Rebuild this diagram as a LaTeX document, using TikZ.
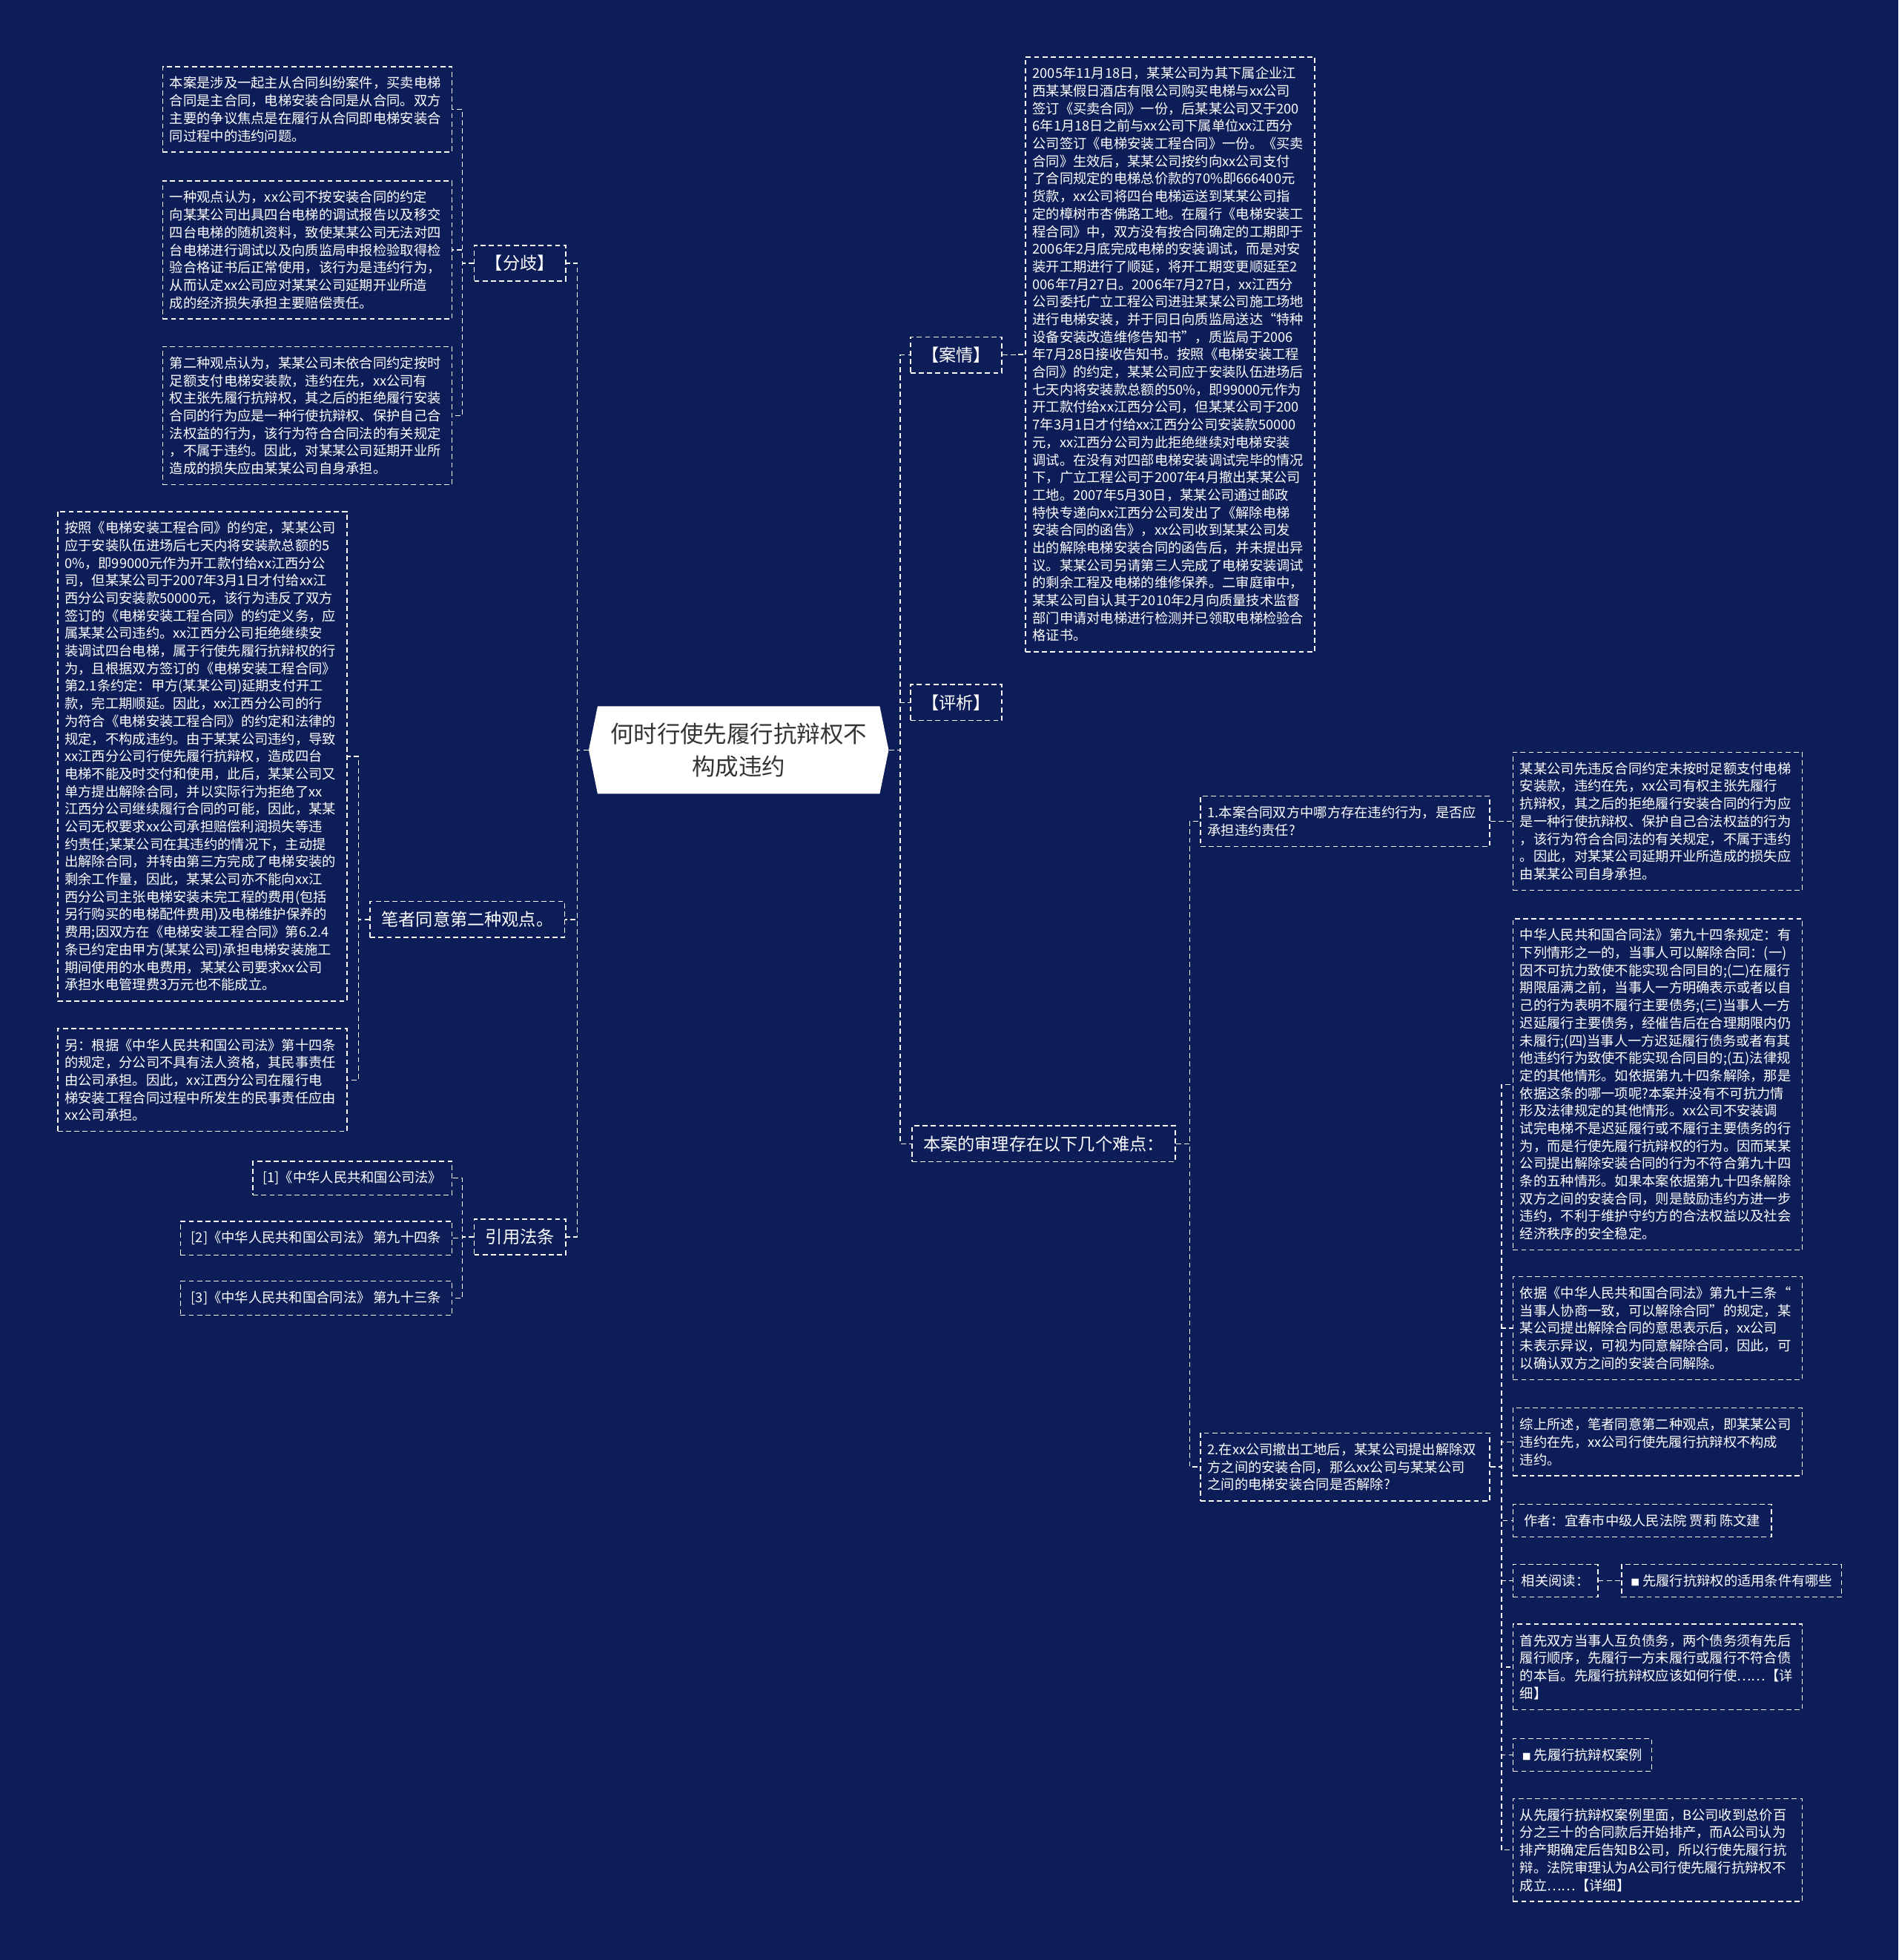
\documentclass[tikz,border=0pt]{standalone}
\usepackage{fontspec}
\setmainfont{Noto Sans CJK SC}
\usetikzlibrary{shapes.symbols}
\definecolor{bgnavy}{RGB}{12,29,88}
\definecolor{rootgray}{RGB}{51,51,51}
\newcommand{\leaffont}{\fontsize{10.8pt}{14pt}\selectfont}
\newcommand{\midfont}{\fontsize{13.7pt}{16pt}\selectfont}
\newcommand{\rootfont}{\fontsize{18.6pt}{26pt}\selectfont}
\tikzset{
  link/.style={white, line width=0.9pt, dash pattern=on 4pt off 2.6pt},
  leafbox/.style={rectangle, draw=white, line width=0.9pt, dash pattern=on 4pt off 2.6pt,
    text=white, font=\leaffont, inner xsep=0.2cm, inner ysep=0.28cm},
  parabox/.style={leafbox, text width=7.7cm, align=left},
  midbox/.style={rectangle, draw=white, line width=0.9pt, dash pattern=on 4pt off 2.6pt,
    text=white, font=\midfont, inner xsep=9pt, inner ysep=2pt, minimum height=1.0cm},
  rootbox/.style={signal, signal to=west and east, signal pointer angle=157, fill=white,
    text=rootgray, font=\rootfont, align=center, minimum width=8.4cm, minimum height=2.45cm}
}
\begin{document}
\begin{tikzpicture}[x=0.035cm, y=-0.035cm]
\fill[bgnavy] (0,0) rectangle (1519,1568);
\useasboundingbox (0,0) rectangle (1519,1568);

% Central topic
\node[rootbox] (root) at (591,600) {何时行使先履行抗辩权不\\构成违约};

% Left branches
\node[midbox] (fenqi) at (416,210.5) {【分歧】};
\node[midbox] (bizhe) at (374,735.5) {笔者同意第二种观点。};
\node[midbox] (yinyong) at (416,989.5) {引用法条};

\node[parabox, anchor=east] (a1) at (362,87.5) {本案是涉及一起主从合同纠纷案件，买卖电梯\\
合同是主合同，电梯安装合同是从合同。双方\\
主要的争议焦点是在履行从合同即电梯安装合\\
同过程中的违约问题。};
\node[parabox, anchor=east] (a2) at (362,200) {一种观点认为，xx公司不按安装合同的约定\\
向某某公司出具四台电梯的调试报告以及移交\\
四台电梯的随机资料，致使某某公司无法对四\\
台电梯进行调试以及向质监局申报检验取得检\\
验合格证书后正常使用，该行为是违约行为，\\
从而认定xx公司应对某某公司延期开业所造\\
成的经济损失承担主要赔偿责任。};
\node[parabox, anchor=east] (a3) at (362,332.5) {第二种观点认为，某某公司未依合同约定按时\\
足额支付电梯安装款，违约在先，xx公司有\\
权主张先履行抗辩权，其之后的拒绝履行安装\\
合同的行为应是一种行使抗辩权、保护自己合\\
法权益的行为，该行为符合合同法的有关规定\\
，不属于违约。因此，对某某公司延期开业所\\
造成的损失应由某某公司自身承担。};

\node[parabox, anchor=east] (b1) at (278,605) {按照《电梯安装工程合同》的约定，某某公司\\
应于安装队伍进场后七天内将安装款总额的5\\
0\%，即99000元作为开工款付给xx江西分公\\
司，但某某公司于2007年3月1日才付给xx江\\
西分公司安装款50000元，该行为违反了双方\\
签订的《电梯安装工程合同》的约定义务，应\\
属某某公司违约。xx江西分公司拒绝继续安\\
装调试四台电梯，属于行使先履行抗辩权的行\\
为，且根据双方签订的《电梯安装工程合同》\\
第2.1条约定：甲方(某某公司)延期支付开工\\
款，完工期顺延。因此，xx江西分公司的行\\
为符合《电梯安装工程合同》的约定和法律的\\
规定，不构成违约。由于某某公司违约，导致\\
xx江西分公司行使先履行抗辩权，造成四台\\
电梯不能及时交付和使用，此后，某某公司又\\
单方提出解除合同，并以实际行为拒绝了xx\\
江西分公司继续履行合同的可能，因此，某某\\
公司无权要求xx公司承担赔偿利润损失等违\\
约责任;某某公司在其违约的情况下，主动提\\
出解除合同，并转由第三方完成了电梯安装的\\
剩余工作量，因此，某某公司亦不能向xx江\\
西分公司主张电梯安装未完工程的费用(包括\\
另行购买的电梯配件费用)及电梯维护保养的\\
费用;因双方在《电梯安装工程合同》第6.2.4\\
条已约定由甲方(某某公司)承担电梯安装施工\\
期间使用的水电费用，某某公司要求xx公司\\
承担水电管理费3万元也不能成立。};
\node[parabox, anchor=east] (b2) at (278,864) {另：根据《中华人民共和国公司法》第十四条\\
的规定，分公司不具有法人资格，其民事责任\\
由公司承担。因此，xx江西分公司在履行电\\
梯安装工程合同过程中所发生的民事责任应由\\
xx公司承担。};

\node[leafbox, anchor=east, minimum width=5.57cm] (c1) at (362,942.5) {[1]《中华人民共和国公司法》};
\node[leafbox, anchor=east, minimum width=7.6cm] (c2) at (362,990.5) {[2]《中华人民共和国公司法》 第九十四条};
\node[leafbox, anchor=east, minimum width=7.6cm] (c3) at (362,1038.5) {[3]《中华人民共和国合同法》 第九十三条};

% Right branches
\node[midbox] (anqing) at (765,284) {【案情】};
\node[midbox] (pingxi) at (765,562) {【评析】};
\node[midbox] (nandian) at (835,915) {本案的审理存在以下几个难点：};

\node[parabox, anchor=west] (d) at (820,283.5) {2005年11月18日，某某公司为其下属企业江\\
西某某假日酒店有限公司购买电梯与xx公司\\
签订《买卖合同》一份，后某某公司又于200\\
6年1月18日之前与xx公司下属单位xx江西分\\
公司签订《电梯安装工程合同》一份。《买卖\\
合同》生效后，某某公司按约向xx公司支付\\
了合同规定的电梯总价款的70\%即666400元\\
货款，xx公司将四台电梯运送到某某公司指\\
定的樟树市杏佛路工地。在履行《电梯安装工\\
程合同》中，双方没有按合同确定的工期即于\\
2006年2月底完成电梯的安装调试，而是对安\\
装开工期进行了顺延，将开工期变更顺延至2\\
006年7月27日。2006年7月27日，xx江西分\\
公司委托广立工程公司进驻某某公司施工场地\\
进行电梯安装，并于同日向质监局送达“特种\\
设备安装改造维修告知书”，质监局于2006\\
年7月28日接收告知书。按照《电梯安装工程\\
合同》的约定，某某公司应于安装队伍进场后\\
七天内将安装款总额的50\%，即99000元作为\\
开工款付给xx江西分公司，但某某公司于200\\
7年3月1日才付给xx江西分公司安装款50000\\
元，xx江西分公司为此拒绝继续对电梯安装\\
调试。在没有对四部电梯安装调试完毕的情况\\
下，广立工程公司于2007年4月撤出某某公司\\
工地。2007年5月30日，某某公司通过邮政\\
特快专递向xx江西分公司发出了《解除电梯\\
安装合同的函告》，xx公司收到某某公司发\\
出的解除电梯安装合同的函告后，并未提出异\\
议。某某公司另请第三人完成了电梯安装调试\\
的剩余工程及电梯的维修保养。二审庭审中，\\
某某公司自认其于2010年2月向质量技术监督\\
部门申请对电梯进行检测并已领取电梯检验合\\
格证书。};

\node[parabox, anchor=west] (q1) at (960,657) {1.本案合同双方中哪方存在违约行为，是否应\\
承担违约责任?};
\node[parabox, anchor=west] (q2) at (960,1173.5) {2.在xx公司撤出工地后，某某公司提出解除双\\
方之间的安装合同，那么xx公司与某某公司\\
之间的电梯安装合同是否解除?};

\node[parabox, anchor=west] (e1) at (1210,657) {某某公司先违反合同约定未按时足额支付电梯\\
安装款，违约在先，xx公司有权主张先履行\\
抗辩权，其之后的拒绝履行安装合同的行为应\\
是一种行使抗辩权、保护自己合法权益的行为\\
，该行为符合合同法的有关规定，不属于违约\\
。因此，对某某公司延期开业所造成的损失应\\
由某某公司自身承担。};
\node[parabox, anchor=west] (e2) at (1210,867.5) {中华人民共和国合同法》第九十四条规定：有\\
下列情形之一的，当事人可以解除合同：(一)\\
因不可抗力致使不能实现合同目的;(二)在履行\\
期限届满之前，当事人一方明确表示或者以自\\
己的行为表明不履行主要债务;(三)当事人一方\\
迟延履行主要债务，经催告后在合理期限内仍\\
未履行;(四)当事人一方迟延履行债务或者有其\\
他违约行为致使不能实现合同目的;(五)法律规\\
定的其他情形。如依据第九十四条解除，那是\\
依据这条的哪一项呢?本案并没有不可抗力情\\
形及法律规定的其他情形。xx公司不安装调\\
试完电梯不是迟延履行或不履行主要债务的行\\
为，而是行使先履行抗辩权的行为。因而某某\\
公司提出解除安装合同的行为不符合第九十四\\
条的五种情形。如果本案依据第九十四条解除\\
双方之间的安装合同，则是鼓励违约方进一步\\
违约，不利于维护守约方的合法权益以及社会\\
经济秩序的安全稳定。};
\node[parabox, anchor=west] (e3) at (1210,1062.5) {依据《中华人民共和国合同法》第九十三条“\\
当事人协商一致，可以解除合同”的规定，某\\
某公司提出解除合同的意思表示后，xx公司\\
未表示异议，可视为同意解除合同，因此，可\\
以确认双方之间的安装合同解除。};
\node[parabox, anchor=west] (e4) at (1210,1153.5) {综上所述，笔者同意第二种观点，即某某公司\\
违约在先，xx公司行使先履行抗辩权不构成\\
违约。};
\node[leafbox, anchor=west, minimum width=7.245cm] (e5) at (1210,1216.5) {作者：宜春市中级人民法院 贾莉 陈文建};
\node[leafbox, anchor=west, minimum width=2.38cm] (e6) at (1210,1264.5) {相关阅读：};
\node[leafbox, anchor=west, minimum width=6.16cm] (e6a) at (1297,1264.5) {{\scriptsize■} 先履行抗辩权的适用条件有哪些};
\node[parabox, anchor=west] (e7) at (1210,1333.5) {首先双方当事人互负债务，两个债务须有先后\\
履行顺序，先履行一方未履行或履行不符合债\\
的本旨。先履行抗辩权应该如何行使……【详\\
细】};
\node[leafbox, anchor=west, minimum width=3.885cm] (e8) at (1210,1404) {{\scriptsize■} 先履行抗辩权案例};
\node[parabox, anchor=west] (e9) at (1210,1480) {从先履行抗辩权案例里面，B公司收到总价百\\
分之三十的合同款后开始排产，而A公司认为\\
排产期确定后告知B公司，所以行使先履行抗\\
辩。法院审理认为A公司行使先履行抗辩权不\\
成立……【详细】};

% Connectors, left side
\foreach \kid in {fenqi, bizhe, yinyong}
  \draw[link] (root.west) -- ++(-9,0) |- (\kid.east);
\foreach \kid in {a1, a2, a3}
  \draw[link] (fenqi.west) -- ++(-9,0) |- (\kid.east);
\foreach \kid in {b1, b2}
  \draw[link] (bizhe.west) -- ++(-9,0) |- (\kid.east);
\foreach \kid in {c1, c2, c3}
  \draw[link] (yinyong.west) -- ++(-9,0) |- (\kid.east);

% Connectors, right side
\foreach \kid in {anqing, pingxi, nandian}
  \draw[link] (root.east) -- ++(9,0) |- (\kid.west);
\draw[link] (anqing.east) -- ++(11,0) |- (d.west);
\foreach \kid in {q1, q2}
  \draw[link] (nandian.east) -- ++(11,0) |- (\kid.west);
\draw[link] (q1.east) -- ++(9,0) |- (e1.west);
\foreach \kid in {e2, e3, e4, e5, e6, e7, e8, e9}
  \draw[link] (q2.east) -- ++(9,0) |- (\kid.west);
\draw[link] (e6.east) -- (e6a.west);
\end{tikzpicture}
\end{document}
